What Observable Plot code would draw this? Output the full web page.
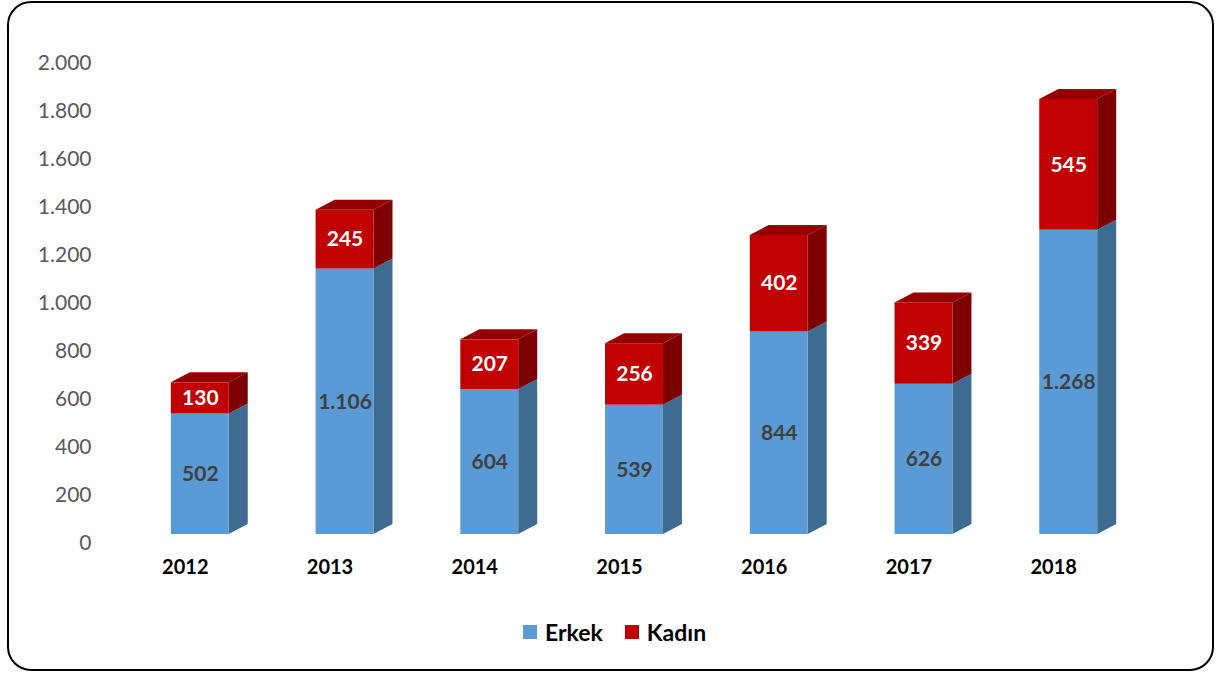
<!DOCTYPE html>
<html><head><meta charset="utf-8">
<script src="https://cdn.jsdelivr.net/npm/d3@7"></script>
<script src="https://cdn.jsdelivr.net/npm/@observablehq/plot@0.6"></script>
<style>
body{margin:0;background:#fff;font-family:Lato,"Open Sans",sans-serif;}
#frame{position:absolute;left:7px;top:1px;width:1207px;height:670px;border:2px solid #000;border-radius:24px;box-sizing:border-box;}
#chart{position:absolute;left:0;top:0;}
#legend{position:absolute;top:618px;left:523px;display:flex;align-items:center;font-weight:bold;font-size:23px;color:#000;}
#legend .sw{width:14px;height:14px;display:inline-block;margin-right:8px;}
#legend .it{display:flex;align-items:center;margin-right:22px;}
</style>
</head><body>
<div id="frame"></div>
<div id="chart"></div>
<div id="legend"></div>
<script>
const years = ["2012","2013","2014","2015","2016","2017","2018"];
const erkek = [502,1106,604,539,844,626,1268];
const kadin = [130,245,207,256,402,339,545];
const sexes = ["Erkek","Kadın"];
const frontColors = ["#5B9BD5","#C00000"];
const sideColors = ["#3E6B92","#7C0000"];
const topColor = "#930000";
const yTicks = [0,200,400,600,800,1000,1200,1400,1600,1800,2000];
const yTickLabels = ["0","200","400","600","800","1.000","1.200","1.400","1.600","1.800","2.000"];

const fmt = d3.formatLocale({decimal:",", thousands:".", grouping:[3], currency:["","₺"]}).format(",d");

const rows = [];
years.forEach((yr,i)=>{
  rows.push({year:yr, sex:"Erkek", value:erkek[i], y1:0, y2:erkek[i]});
  rows.push({year:yr, sex:"Kadın", value:kadin[i], y1:erkek[i], y2:erkek[i]+kadin[i]});
});
const DX = 19, DY = 10;

function depthFaces(index, scales, values, dimensions, context) {
  const x = scales.x, y = scales.y;
  const bw = x.bandwidth();
  const g = d3.create("svg:g");
  for (const r of rows) {
    const xl = x(r.year), xr = xl + bw;
    const yb = y(r.y1), yt = y(r.y2);
    g.append("polygon")
      .attr("points", [[xr,yb],[xr+DX,yb-DY],[xr+DX,yt-DY],[xr,yt]].join(" "))
      .attr("fill", sideColors[sexes.indexOf(r.sex)]);
    if (r.sex === "Kadın") {
      g.append("polygon")
        .attr("points", [[xl,yt],[xl+DX,yt-DY],[xr+DX,yt-DY],[xr,yt]].join(" "))
        .attr("fill", topColor);
    }
  }
  return g.node();
}

const plot = Plot.plot({
  width: 1217, height: 600,
  marginLeft: 84, marginRight: 33, marginTop: 54, marginBottom: 66,
  style: {fontFamily: "Lato, 'Open Sans', sans-serif", background: "transparent"},
  x: {domain: years, padding: 0.6, round: false, axis: null},
  y: {domain: [0,2000], axis: null},
  color: {domain: sexes, range: frontColors},
  marks: [
    depthFaces,
    Plot.barY(rows, {x:"year", y1:"y1", y2:"y2", fill:"sex"}),
    Plot.text(rows.filter(d=>d.sex==="Erkek"), {x:"year", y:d=>(d.y1+d.y2)/2, text:d=>fmt(d.value), fill:"#404040", fontWeight:"bold", fontSize:21}),
    Plot.text(rows.filter(d=>d.sex==="Kadın"), {x:"year", y:d=>(d.y1+d.y2)/2, text:d=>fmt(d.value), fill:"#fff", fontWeight:"bold", fontSize:21}),
    Plot.text(yTicks, {y:d=>d, text:(d,i)=>yTickLabels[i], frameAnchor:"left", textAnchor:"end", dx:7, dy:9, fill:"#595959", fontSize:21}),
    Plot.text(years, {x:d=>d, text:d=>d, frameAnchor:"bottom", dy:39, dx:-15, fill:"#000", fontWeight:"bold", fontSize:20})
  ]
});
document.getElementById("chart").appendChild(plot);

const leg = d3.select("#legend");
sexes.forEach((s,i)=>{
  const it = leg.append("div").attr("class","it");
  it.append("span").attr("class","sw").style("background", frontColors[i]);
  it.append("span").text(s);
});
</script>
</body></html>
